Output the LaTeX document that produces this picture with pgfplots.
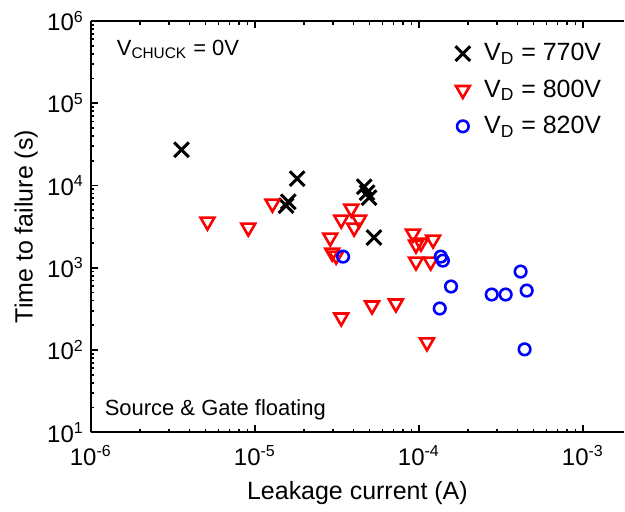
\documentclass[border=0pt]{standalone}
\usepackage{pgfplots}
\pgfplotsset{compat=1.18}
\usepackage{fontspec}
\setmainfont{Liberation Sans}

% Time to failure versus leakage current, three drain voltages
\pgfplotstableread{
I        t
3.57e-6  2.72e4
1.60e-5  6350
1.55e-5  5690
1.81e-5  1.21e4
4.64e-5  9670
4.83e-5  8180
4.97e-5  7110
5.32e-5  2330
}\vdA

\pgfplotstableread{
I        t
5.14e-6  3640
9.12e-6  3075
1.28e-5  6020
3.87e-5  5230
3.36e-5  3850
4.32e-5  3850
4.03e-5  3075
2.88e-5  2330
2.96e-5  1530
3.13e-5  1405
9.20e-5  2600
9.60e-5  1913
1.03e-4  2023
1.22e-4  2200
9.60e-5  1190
1.18e-4  1190
3.36e-5  249
5.18e-5  348
7.24e-5  368
1.12e-4  124
}\vdB

\pgfplotstableread{
I        t
3.45e-5  1367
1.36e-4  1367
1.40e-4  1222
1.57e-4  592
1.34e-4  320
2.78e-4  473
3.38e-4  473
4.17e-4  899
4.54e-4  528
4.41e-4  102
}\vdC

\begin{document}
\begin{tikzpicture}
\begin{axis}[
  scale only axis,
  width=267pt, height=206pt,
  xmode=log, ymode=log,
  xmin=1e-6, xmax=1.78e-3,
  ymin=10, ymax=1e6,
  axis x line=box, axis y line=left,
  axis line style={line width=1pt, -},
  every tick/.style={line width=0.8pt, black},
  major tick length=3.5pt, minor tick length=1.8pt,
  tick align=inside,
  xtick={1e-6,1e-5,1e-4,1e-3},
  xticklabels={10\textsuperscript{-6},10\textsuperscript{-5},10\textsuperscript{-4},10\textsuperscript{-3}},
  ytick={1e1,1e2,1e3,1e4,1e5,1e6},
  yticklabels={10\textsuperscript{1},10\textsuperscript{2},10\textsuperscript{3},10\textsuperscript{4},10\textsuperscript{5},10\textsuperscript{6}},
  tick label style={font=\fontsize{12}{14}\selectfont},
  xticklabel style={yshift=-3pt},
  xlabel={Leakage current (A)},
  ylabel={Time to failure (s)},
  every axis x label/.style={at={(axis description cs:0.5,-0.163)}, anchor=base,
    font=\fontsize{12.5}{15}\selectfont},
  every axis y label/.style={at={(axis description cs:-0.109,0.5)}, rotate=90, anchor=base,
    font=\fontsize{12.5}{15}\selectfont},
  legend style={draw=none, fill=none, at={(rel axis cs:0.672,0.966)}, anchor=north west,
    font=\fontsize{12.5}{15}\selectfont, row sep=4pt, column sep=5pt},
  legend cell align=left,
  clip=false,
]
\addplot[only marks, mark=x, mark size=5.2pt, black, line width=1.5pt] table {\vdA};
\addlegendentry{V\textsubscript{D} = 770V}
\addplot[only marks, mark=triangle, mark size=4pt, red, line width=1.3pt,
  mark options={rotate=180}] table {\vdB};
\addlegendentry{V\textsubscript{D} = 800V}
\addplot[only marks, mark=o, mark size=2.9pt, blue, line width=1.3pt] table {\vdC};
\addlegendentry{V\textsubscript{D} = 820V}

\node[anchor=base west, font=\fontsize{11}{13}\selectfont]
  at (rel axis cs:0.0356,0.917) {V\textsubscript{CHUCK} = 0V};
\node[anchor=base west, font=\fontsize{11}{13}\selectfont]
  at (rel axis cs:0.013,0.041) {Source \& Gate floating};
\end{axis}
\path ([shift={(-45.5pt,-37.5pt)}]current axis.south west)
  rectangle ([shift={(0pt,10.5pt)}]current axis.north east);
\end{tikzpicture}
\end{document}
